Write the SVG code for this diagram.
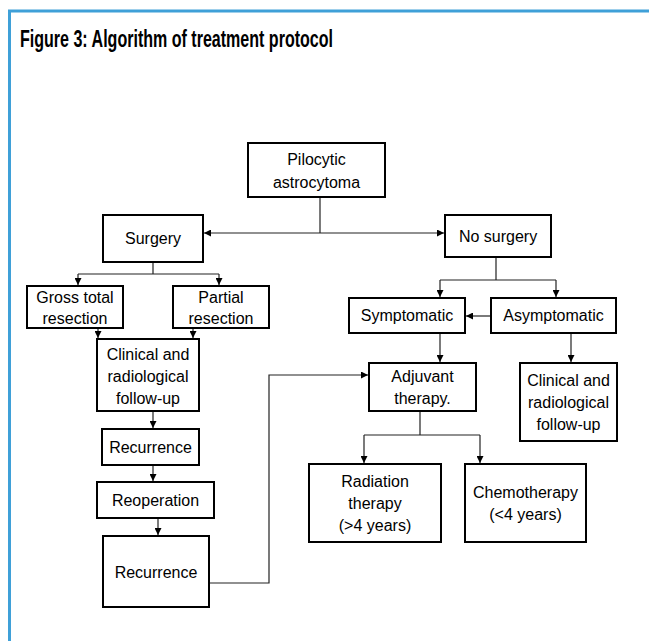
<svg xmlns="http://www.w3.org/2000/svg" width="649" height="641" viewBox="0 0 649 641">
<style>
.box{fill:#fff;stroke:#000;stroke-width:2}
.t{font-family:"Liberation Sans",Arial,sans-serif;font-size:16px;fill:#000;text-anchor:middle}
.c{fill:none;stroke:#222;stroke-width:1.2}
.title{font-family:"Liberation Sans Narrow","Liberation Sans",Arial,sans-serif;font-weight:bold;font-size:23.5px;fill:#000}
</style>
<defs>
<marker id="a" viewBox="0 0 10 10" refX="10" refY="5" markerWidth="7" markerHeight="7" markerUnits="userSpaceOnUse" orient="auto">
<path d="M0,0 L10,5 L0,10 z" fill="#000"/>
</marker>
</defs>
<rect width="649" height="641" fill="#fff"/>
<g id="frame" fill="none" stroke="#3fa0d8" stroke-width="3">
<path d="M9.5,641 V11 H649"/>
</g>
<text class="title" x="20" y="47" textLength="313" lengthAdjust="spacingAndGlyphs">Figure 3: Algorithm of treatment protocol</text>
<g id="connectors">
<path class="c" d="M320,197 V233"/>
<path class="c" d="M320,233 H204" marker-end="url(#a)"/>
<path class="c" d="M320,233 H444" marker-end="url(#a)"/>
<path class="c" d="M153,262 V274 M78,274 H219"/>
<path class="c" d="M78,274 V285" marker-end="url(#a)"/>
<path class="c" d="M219,274 V285" marker-end="url(#a)"/>
<path class="c" d="M98,328 V338" marker-end="url(#a)"/>
<path class="c" d="M193,328 V338" marker-end="url(#a)"/>
<path class="c" d="M153,411 V428" marker-end="url(#a)"/>
<path class="c" d="M153,465 V481" marker-end="url(#a)"/>
<path class="c" d="M158,518 V535" marker-end="url(#a)"/>
<path class="c" d="M209,583 H269 V375 H368" marker-end="url(#a)"/>
<path class="c" d="M496,257 V280 M440,280 H556"/>
<path class="c" d="M440,280 V297" marker-end="url(#a)"/>
<path class="c" d="M556,280 V297" marker-end="url(#a)"/>
<path class="c" d="M491,316 H466" marker-end="url(#a)"/>
<path class="c" d="M440,333 V362" marker-end="url(#a)"/>
<path class="c" d="M571,333 V362" marker-end="url(#a)"/>
<path class="c" d="M420,411 V435 M364,435 H480" stroke="#555"/>
<path class="c" d="M364,435 V463" marker-end="url(#a)"/>
<path class="c" d="M480,435 V463" marker-end="url(#a)"/>
</g>
<g id="pilocytic"><rect class="box" x="248" y="143" width="137" height="54"/><text class="t" x="316.5" y="165">Pilocytic</text><text class="t" x="316.5" y="188">astrocytoma</text></g>
<g id="surgery"><rect class="box" x="103" y="215" width="100" height="47"/><text class="t" x="153" y="244">Surgery</text></g>
<g id="nosurgery"><rect class="box" x="445" y="215" width="106" height="42"/><text class="t" x="498" y="242">No surgery</text></g>
<g id="gross"><rect class="box" x="27" y="286" width="96" height="42"/><text class="t" x="75" y="303">Gross total</text><text class="t" x="75" y="324">resection</text></g>
<g id="partial"><rect class="box" x="173" y="286" width="96" height="42"/><text class="t" x="221" y="303">Partial</text><text class="t" x="221" y="324">resection</text></g>
<g id="clinical1"><rect class="box" x="97" y="339" width="102" height="72"/><text class="t" x="148" y="360">Clinical and</text><text class="t" x="148" y="382">radiological</text><text class="t" x="148" y="404">follow-up</text></g>
<g id="recurrence1"><rect class="box" x="102" y="429" width="97" height="36"/><text class="t" x="150.5" y="453">Recurrence</text></g>
<g id="reoperation"><rect class="box" x="97" y="482" width="117" height="36"/><text class="t" x="155.5" y="506">Reoperation</text></g>
<g id="recurrence2"><rect class="box" x="103" y="536" width="106" height="71"/><text class="t" x="156" y="578">Recurrence</text></g>
<g id="symptomatic"><rect class="box" x="349" y="298" width="116" height="35"/><text class="t" x="407" y="321">Symptomatic</text></g>
<g id="asymptomatic"><rect class="box" x="491" y="298" width="125" height="35"/><text class="t" x="553.5" y="321">Asymptomatic</text></g>
<g id="adjuvant"><rect class="box" x="369" y="363" width="107" height="48"/><text class="t" x="422.5" y="382">Adjuvant</text><text class="t" x="422.5" y="404">therapy.</text></g>
<g id="clinical2"><rect class="box" x="520" y="363" width="97" height="78"/><text class="t" x="568.5" y="386">Clinical and</text><text class="t" x="568.5" y="408">radiological</text><text class="t" x="568.5" y="430">follow-up</text></g>
<g id="radiation"><rect class="box" x="309" y="464" width="132" height="78"/><text class="t" x="375" y="487">Radiation</text><text class="t" x="375" y="509">therapy</text><text class="t" x="375" y="531">(&gt;4 years)</text></g>
<g id="chemo"><rect class="box" x="465" y="464" width="121" height="78"/><text class="t" x="525.5" y="498">Chemotherapy</text><text class="t" x="525.5" y="520">(&lt;4 years)</text></g>
</svg>
